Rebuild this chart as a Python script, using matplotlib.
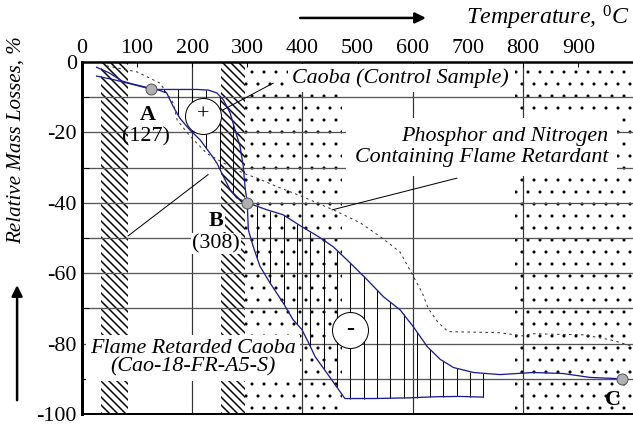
import numpy as np
import matplotlib
matplotlib.use('Agg')
import matplotlib.pyplot as plt

plt.rcParams['font.family'] = ['Liberation Serif', 'DejaVu Serif']
plt.rcParams['mathtext.fontset'] = 'custom'
plt.rcParams['mathtext.rm'] = 'Liberation Serif'
plt.rcParams['mathtext.it'] = 'Liberation Serif:italic'
plt.rcParams['hatch.linewidth'] = 1.5

# control sample (Caoba)
ctrl_t = [27, 50, 73, 91, 115, 125, 150, 180, 210, 230, 245, 257, 269, 278, 287, 293, 296, 300,
          302, 311, 323, 341, 365, 383, 399, 411, 423, 450, 477, 530, 595, 640, 686, 728]
ctrl_y = [-1.5, -3.1, -5.4, -6.2, -7.1, -7.8, -7.8, -7.8, -7.8, -8.0, -8.8, -10.8, -14.5, -19.3, -24, -29.8, -35.5, -40,
          -47.7, -52.5, -58, -62.7, -68.4, -73.2, -76, -79.7, -83.7, -89.6, -95.6, -95.6, -95.4, -95.1, -95.0, -95.2]

# flame retarded caoba (Cao-18-FR-A5-S)
fr_t = [27, 60, 88, 118, 125, 140, 154, 166, 178, 196, 214, 233, 245, 257, 269, 281, 300,
        336, 365, 396, 429, 456, 486, 517, 547, 577, 601, 626, 650, 674, 710, 758, 818, 873, 921, 980]
fr_y = [-4.0, -5.1, -6.2, -7.4, -7.8, -8.0, -8.8, -12.7, -16, -19.3, -22, -26, -28.7, -32.6, -36.3, -38.6, -40,
        -42, -43.4, -46.5, -49.6, -52.5, -57, -61.8, -66.7, -70.4, -75.2, -80.8, -84.5, -86.8, -88.2, -88.8, -88.2, -88.5, -89.6, -90]

# phosphor and nitrogen containing flame retardant
pn_t = [45, 100, 142, 166, 173, 196, 227, 257, 293, 318, 354, 401, 456, 505, 541, 577, 598, 617, 628,
        646, 664, 758, 798, 818, 909, 958, 1000]
pn_y = [-1.1, -2.8, -6, -11.7, -16.5, -21, -26, -28.7, -31.6, -33, -35.4, -38.3, -42, -45.7, -49.6, -54, -60, -65.5, -70,
        -74, -76.6, -76.9, -77.8, -77.2, -77.5, -78.9, -80.8]

pts_t = [125, 300, 980]
pts_y = [-7.8, -40, -90]

xticks = [0, 100, 200, 300, 400, 500, 600, 700, 800, 900]
yticks = [0, -20, -40, -60, -80, -100]
xgrid = [200, 400, 600, 800]
ygrid = [-10, -20, -30, -40, -50, -60, -70, -80, -90]

hatch_bands = [(35, 84), (252, 296)]
dot_bands = [(296, 472), (785, 1000)]

fig = plt.figure(figsize=(633 / 72, 427 / 72), dpi=72)
ax = fig.add_axes([0.1291, 0.0304, 0.8716, 0.8244])
ax.set_xlim(0, 1000)
ax.set_ylim(-100, 0)

for a, b in hatch_bands:
    ax.axvspan(a, b, facecolor='white', edgecolor='black', hatch='\\\\\\', lw=0, zorder=1)
for a, b in dot_bands:
    with plt.rc_context({'hatch.linewidth': 0.6}):
        sp = ax.axvspan(a, b, facecolor='white', edgecolor='black', hatch='.', lw=0, zorder=1)
    if hasattr(sp, 'set_hatch_linewidth'):
        sp.set_hatch_linewidth(0.6)

for g in xgrid:
    ax.axvline(g, color='#333333', lw=1.2, zorder=1.5)
for g in ygrid:
    ax.axhline(g, color='#555555', lw=1.3, zorder=1.5)

# vertical hatching between the curves
xs_plus = np.arange(150, 300, 25)
ax.vlines(xs_plus, np.interp(xs_plus, fr_t, fr_y), np.interp(xs_plus, ctrl_t, ctrl_y),
          color='black', lw=1, zorder=2.5)
xs_minus = np.linspace(318, 728, 18)
ax.vlines(xs_minus, np.interp(xs_minus, ctrl_t, ctrl_y), np.interp(xs_minus, fr_t, fr_y),
          color='black', lw=1, zorder=2.5)

ax.plot(pn_t, pn_y, color='#333333', lw=1, ls=(0, (2.5, 3.5)), zorder=3)
ax.plot(ctrl_t, ctrl_y, color='#1c1c96', lw=1.3, zorder=3)
ax.plot(fr_t, fr_y, color='#1c1c96', lw=1.3, zorder=3)
ax.plot(pts_t, pts_y, 'o', ms=11, mfc='#b0b0b0', mec='#555555', mew=1, ls='none', zorder=5)

# +/- circles
ax.plot([220.6], [-15.2], 'o', ms=36, mfc='white', mec='black', mew=1, zorder=4)
ax.text(220.6, -15.2, '+', fontsize=22, ha='center', va='center', zorder=5)
ax.plot([486], [-76], 'o', ms=36, mfc='white', mec='black', mew=1, zorder=4)
ax.text(486, -76, '-', fontsize=24, fontweight='bold', ha='center', va='center', zorder=5)

# leader lines
ax.plot([347, 256], [-6, -13.6], color='black', lw=1, zorder=4)
ax.plot([680, 454], [-33, -42], color='black', lw=1, zorder=4)
ax.plot([84, 229], [-49.4, -32], color='black', lw=1, zorder=4)

wb = dict(facecolor='white', edgecolor='none', pad=4)
ax.text(577, -4.5, 'Caoba (Control Sample)', fontsize=22, style='italic',
        ha='center', va='center', bbox=wb, zorder=6)
ax.text(954, -24.1, 'Phosphor and Nitrogen\nContaining Flame Retardant', fontsize=22, style='italic',
        ha='right', va='center', multialignment='right', linespacing=1.1,
        bbox=dict(facecolor='white', edgecolor='none', pad=9), zorder=6)
ax.text(202, -84, 'Flame Retarded Caoba\n(Cao-18-FR-A5-S)', fontsize=22, style='italic',
        ha='center', va='center', multialignment='center', linespacing=1.0,
        bbox=wb, zorder=6)

ax.text(120, -15.0, 'A', fontsize=22, fontweight='bold', ha='center', va='center', zorder=6)
ax.text(116.5, -21.3, '(127)', fontsize=22, ha='center', va='center', zorder=6)
ax.text(243.6, -45.1, 'B', fontsize=22, fontweight='bold', ha='center', va='center',
        bbox=dict(facecolor='white', edgecolor='none', pad=1), zorder=6)
ax.text(243.6, -51.6, '(308)', fontsize=22, ha='center', va='center',
        bbox=dict(facecolor='white', edgecolor='none', pad=1), zorder=6)
ax.text(963, -95.9, 'C', fontsize=22, fontweight='bold', ha='center', va='center', zorder=6)

# axes styling
ax.xaxis.tick_top()
ax.set_xticks(xticks)
ax.set_xticklabels([str(v) for v in xticks])
ax.set_yticks(yticks)
ax.set_yticklabels([str(v) for v in yticks])
ax.set_yticks(np.arange(-90, 0, 20), minor=True)
ax.tick_params(axis='x', which='major', direction='in', length=5, width=1, labelsize=22, pad=4)
ax.tick_params(axis='y', which='major', direction='in', length=0, labelsize=22, pad=5)
ax.tick_params(axis='y', which='minor', direction='in', length=7, width=1)
ax.spines['left'].set_linewidth(3)
ax.spines['top'].set_linewidth(2.5)
ax.spines['bottom'].set_linewidth(2)
ax.spines['right'].set_visible(False)

fig.text(0.025, 0.672, 'Relative Mass Losses, %', rotation=90, fontsize=21, style='italic',
         ha='center', va='center')
fig.text(0.995, 0.958, r'Temperature, $^{0}C$', fontsize=24, style='italic', ha='right', va='center')
ax.annotate('', xy=(0.676, 0.958), xytext=(0.471, 0.958), xycoords='figure fraction',
            arrowprops=dict(arrowstyle='-|>', lw=2.5, color='black', mutation_scale=22),
            annotation_clip=False)
ax.annotate('', xy=(0.027, 0.337), xytext=(0.027, 0.058), xycoords='figure fraction',
            arrowprops=dict(arrowstyle='-|>', lw=2.5, color='black', mutation_scale=22),
            annotation_clip=False)

fig.savefig('out.png', dpi=72)
